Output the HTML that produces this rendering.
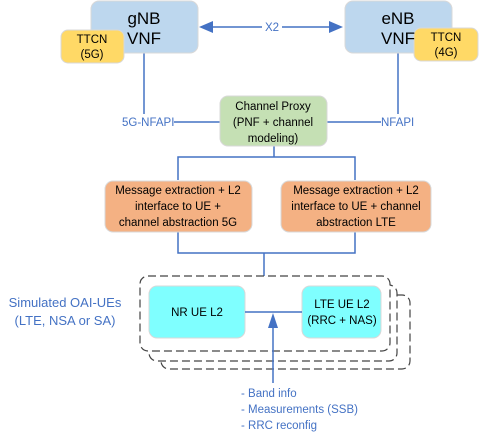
<!DOCTYPE html>
<html><head><style>
body{margin:0;width:479px;height:440px;background:#fff;overflow:hidden;font-family:"Liberation Sans",sans-serif}
</style></head><body>
<svg width="479" height="440" xmlns="http://www.w3.org/2000/svg" font-family="Liberation Sans, sans-serif">
<g stroke="#4472C4" stroke-width="1.5" fill="none">
<line x1="208" y1="27" x2="334" y2="27"/>
<line x1="144" y1="53" x2="144" y2="114"/>
<line x1="398" y1="53" x2="398" y2="114"/>
<line x1="174" y1="122" x2="220" y2="122"/>
<line x1="327" y1="122" x2="381" y2="122"/>
<line x1="274" y1="146" x2="274" y2="157"/>
<polyline points="178,180 178,157 355,157 355,180"/>
<polyline points="178,232 178,253 355,253 355,232"/>
<line x1="264" y1="253" x2="264" y2="277"/>
</g>
<path d="M199,27 L213,21 L213,33z" fill="#4472C4"/>
<path d="M343,27 L329,21 L329,33z" fill="#4472C4"/>
<g fill="none" stroke="#444" stroke-width="1.2" stroke-dasharray="8,4">
<rect x="161" y="295" width="249" height="74" rx="8" fill="#fff"/>
<rect x="149" y="285" width="248" height="76" rx="8" fill="#fff"/>
<rect x="140" y="276" width="250" height="75" rx="8" fill="#fff"/>
</g>
<rect x="91" y="1" width="107" height="52" rx="8" fill="#BDD7EE" stroke="#d8d8d8"/>
<rect x="345" y="1" width="107" height="52" rx="8" fill="#BDD7EE" stroke="#d8d8d8"/>
<rect x="61" y="30" width="63" height="33" rx="7" fill="#FFD966" stroke="#d8d8d8"/>
<rect x="414" y="28" width="64" height="33" rx="7" fill="#FFD966" stroke="#d8d8d8"/>
<rect x="220" y="96" width="107" height="50" rx="8" fill="#C5E0B4" stroke="#d8d8d8"/>
<rect x="105" y="181" width="147" height="51" rx="8" fill="#F4B183" stroke="#d8d8d8"/>
<rect x="281" y="181" width="150" height="51" rx="8" fill="#F4B183" stroke="#d8d8d8"/>
<rect x="149" y="286" width="96" height="52" rx="8" fill="#7FFFFF" stroke="#d8d8d8"/>
<rect x="302" y="286" width="79" height="52" rx="8" fill="#7FFFFF" stroke="#d8d8d8"/>
<line x1="245" y1="312" x2="302" y2="312" stroke="#4472C4" stroke-width="1.5"/>
<line x1="273" y1="383" x2="273" y2="325" stroke="#4472C4" stroke-width="1.5"/>
<path d="M268,328 L273,313 L278,328z" fill="#4472C4"/>
<g fill="#000" text-anchor="middle">
<text x="144" y="24" font-size="17">gNB</text><text x="144" y="44" font-size="17">VNF</text>
<text x="398" y="24" font-size="17">eNB</text><text x="398" y="44" font-size="17">VNF</text>
<text x="92" y="43" font-size="11.5">TTCN</text><text x="92" y="58" font-size="11.5">(5G)</text>
<text x="446" y="41" font-size="11.5">TTCN</text><text x="446" y="56" font-size="11.5">(4G)</text>
<text x="273" y="110" font-size="11.5">Channel Proxy</text>
<text x="273" y="126" font-size="11.5">(PNF + channel</text>
<text x="273" y="142" font-size="11.5">modeling)</text>
<text x="178" y="194" font-size="11.5">Message extraction + L2</text>
<text x="178" y="210" font-size="11.5">interface to UE +</text>
<text x="178" y="226" font-size="11.5">channel abstraction 5G</text>
<text x="356" y="194" font-size="11.5">Message extraction + L2</text>
<text x="356" y="210" font-size="11.5">interface to UE + channel</text>
<text x="356" y="226" font-size="11.5">abstraction LTE</text>
<text x="197" y="316" font-size="11.5">NR UE L2</text>
<text x="342" y="308" font-size="11.5">LTE UE L2</text>
<text x="342" y="324" font-size="11.5">(RRC + NAS)</text>
</g>
<g fill="#4472C4" font-size="11.5">
<rect x="262" y="20" width="20" height="14" fill="#fff"/>
<text x="272" y="31" text-anchor="middle">X2</text>
<text x="122" y="126">5G-NFAPI</text>
<text x="381" y="126">NFAPI</text>
<text x="65" y="307" text-anchor="middle" font-size="13">Simulated OAI-UEs</text>
<text x="65" y="325" text-anchor="middle" font-size="13">(LTE, NSA or SA)</text>
<text x="241" y="397">- Band info</text>
<text x="241" y="413">- Measurements (SSB)</text>
<text x="241" y="429">- RRC reconfig</text>
</g>
</svg>
</body></html>
